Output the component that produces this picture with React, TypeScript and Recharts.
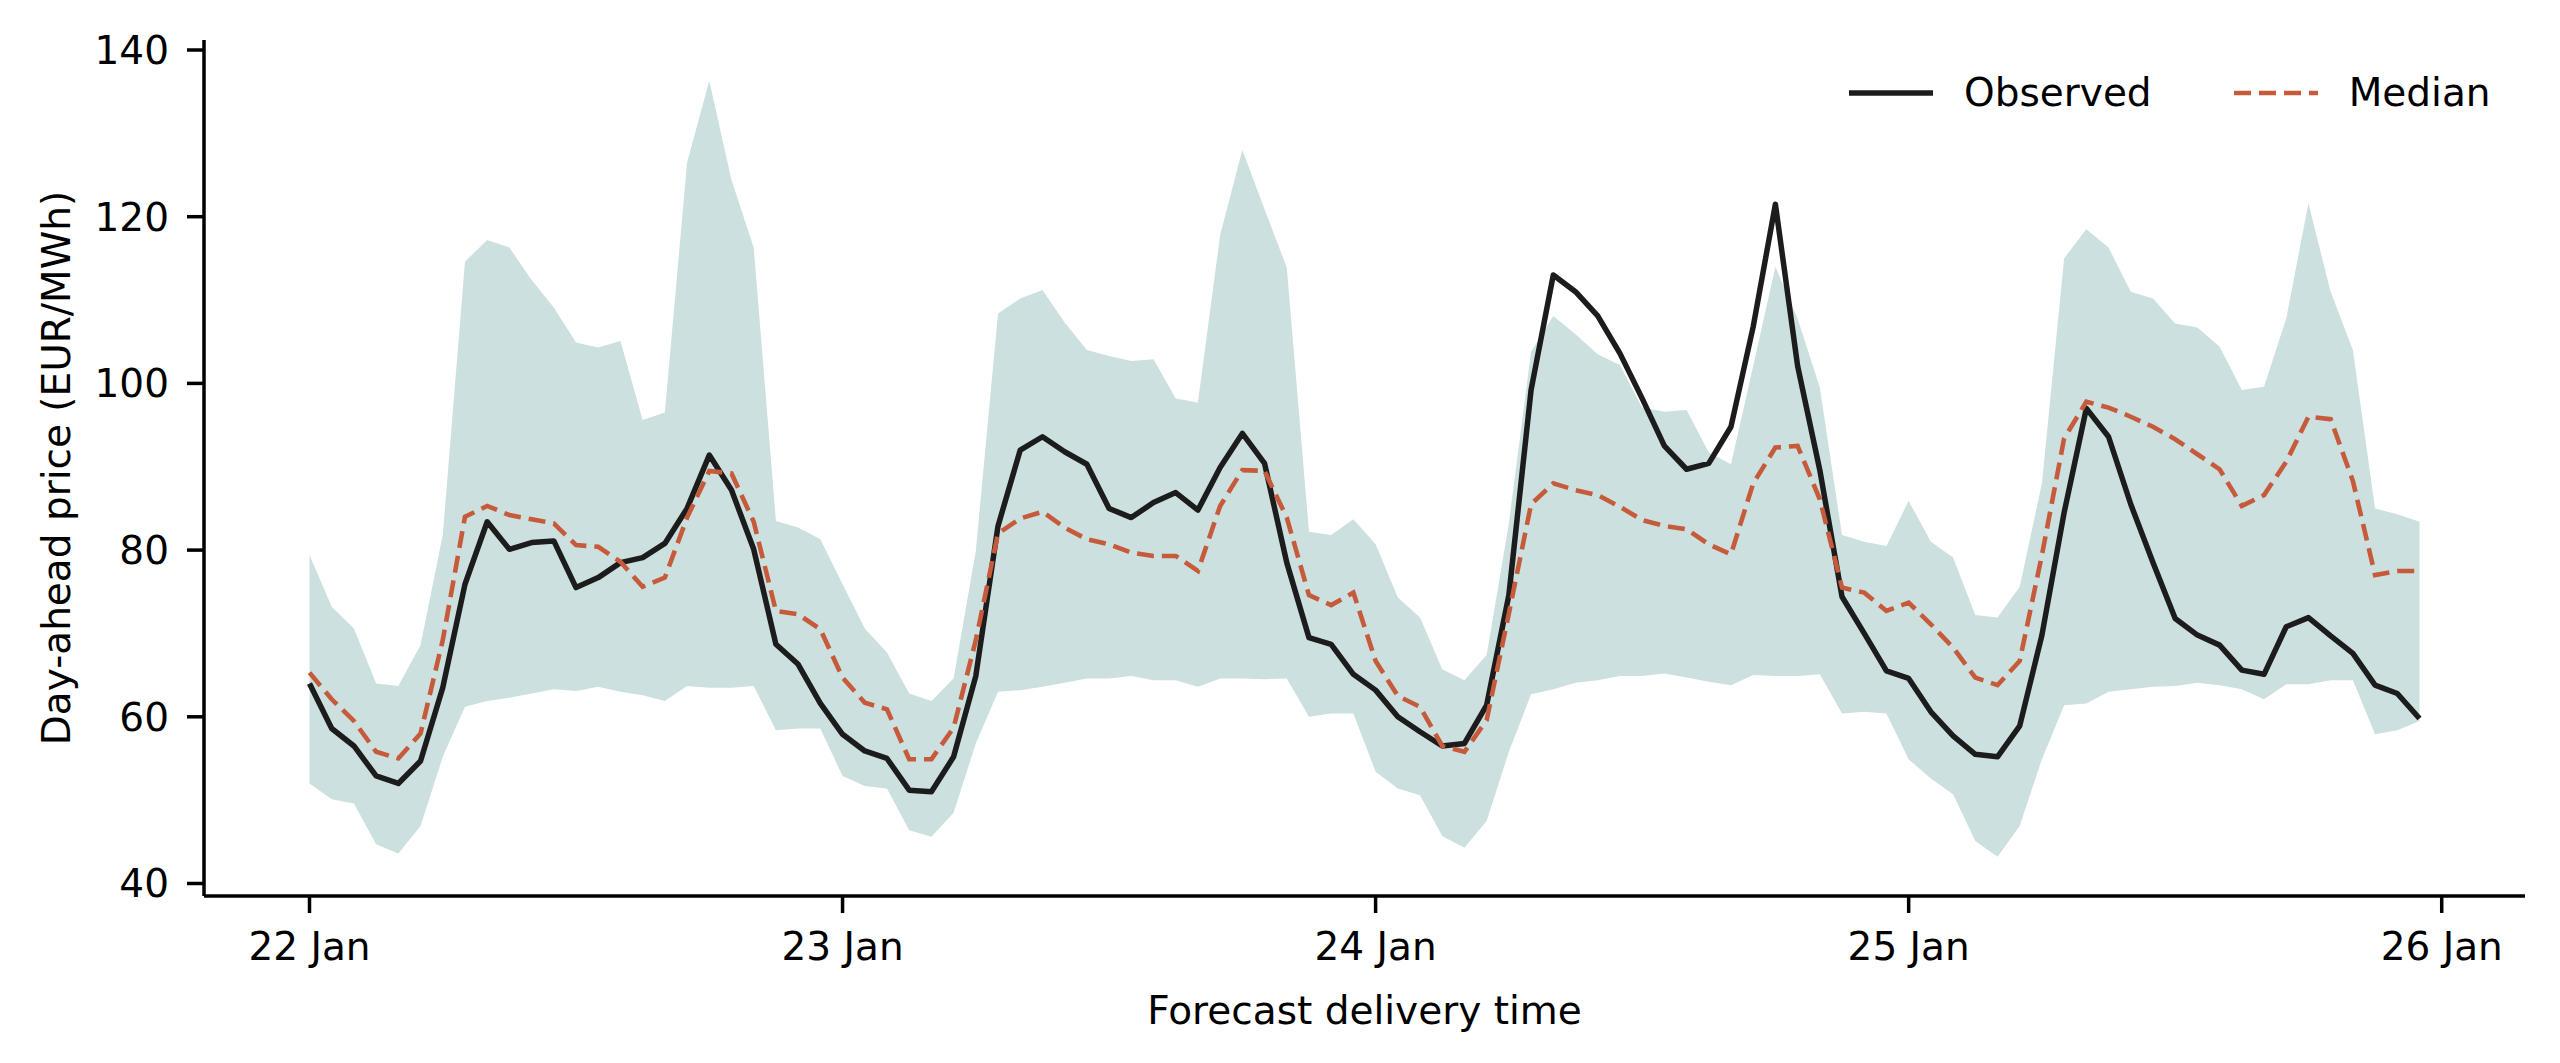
import React from "react";
import { Area, ComposedChart, Legend, Line, XAxis, YAxis } from "recharts";

const FONT = '"DejaVu Sans", sans-serif';

// hourly delivery times, 22 Jan 00:00 .. 25 Jan 23:00
const dayLabels = ["22 Jan", "23 Jan", "24 Jan", "25 Jan", "26 Jan"];
const dayTicks = [0, 24, 48, 72, 96];
const priceTicks = [40, 60, 80, 100, 120, 140];
const legendOrder = ["Observed", "Median"];

const observed = [
  64.0, 58.6, 56.5, 52.9, 52.0, 54.7, 63.5, 75.9, 83.4, 80.1, 80.9, 81.1, 75.5, 76.7, 78.5, 79.1, 80.8, 85.0, 91.4, 87.2, 80.1, 68.7, 66.3, 61.6,
  57.9, 55.9, 55.0, 51.2, 51.0, 55.2, 64.9, 82.9, 92.0, 93.6, 91.8, 90.3, 85.0, 83.9, 85.7, 86.9, 84.8, 89.9, 94.0, 90.4, 78.5, 69.5, 68.7, 65.1,
  63.2, 60.0, 58.2, 56.5, 56.8, 61.4, 74.6, 99.2, 113.0, 111.0, 108.1, 103.6, 98.2, 92.5, 89.7, 90.4, 94.8, 106.8, 121.5, 102.1, 89.6, 74.4, 70.0, 65.5,
  64.6, 60.6, 57.7, 55.5, 55.2, 58.9, 69.8, 84.5, 97.0, 93.6, 85.5, 78.5, 71.8, 69.8, 68.6, 65.6, 65.1, 70.8, 71.9, 69.7, 67.6, 63.8, 62.8, 59.8,
];

const median = [
  65.3, 62.1, 59.5, 55.8, 55.0, 58.0, 69.2, 84.0, 85.3, 84.2, 83.7, 83.2, 80.6, 80.4, 78.6, 75.6, 76.7, 83.9, 89.5, 89.2, 83.4, 72.7, 72.3, 70.5,
  64.7, 61.7, 60.9, 54.9, 54.9, 58.7, 69.2, 82.0, 83.8, 84.6, 82.7, 81.3, 80.7, 79.7, 79.3, 79.3, 77.5, 85.3, 89.6, 89.5, 83.9, 74.6, 73.4, 74.9,
  66.7, 62.5, 61.2, 56.5, 55.8, 59.6, 72.4, 85.5, 88.0, 87.2, 86.6, 85.2, 83.6, 82.9, 82.5, 80.7, 79.5, 88.0, 92.3, 92.5, 86.1, 75.5, 74.9, 72.7,
  73.7, 71.1, 68.3, 64.7, 63.8, 66.7, 79.4, 93.4, 97.8, 97.1, 96.0, 94.8, 93.3, 91.5, 89.7, 85.3, 86.6, 90.6, 96.0, 95.7, 88.3, 77.0, 77.5, 77.5,
];

const lower = [
  52.0, 50.1, 49.6, 44.7, 43.6, 46.9, 55.2, 61.2, 61.9, 62.3, 62.8, 63.3, 63.1, 63.6, 63.0, 62.6, 61.9, 63.7, 63.5, 63.5, 63.7, 58.4, 58.6, 58.6,
  52.9, 51.7, 51.4, 46.4, 45.6, 48.5, 56.8, 63.0, 63.2, 63.6, 64.1, 64.6, 64.6, 64.9, 64.4, 64.4, 63.6, 64.6, 64.6, 64.5, 64.6, 60.0, 60.4, 60.4,
  53.4, 51.4, 50.6, 45.7, 44.3, 47.5, 55.8, 62.7, 63.3, 64.1, 64.4, 64.9, 64.9, 65.2, 64.7, 64.2, 63.8, 65.0, 64.9, 64.9, 65.1, 60.4, 60.6, 60.4,
  54.9, 52.6, 50.7, 45.1, 43.2, 46.9, 54.9, 61.4, 61.6, 63.0, 63.3, 63.6, 63.7, 64.1, 63.8, 63.3, 62.1, 63.9, 63.9, 64.4, 64.4, 57.9, 58.4, 59.5,
];

const upper = [
  79.4, 73.2, 70.6, 64.0, 63.7, 68.6, 81.8, 114.6, 117.2, 116.3, 112.4, 109.1, 104.9, 104.3, 105.1, 95.6, 96.5, 126.5, 136.3, 124.4, 116.3, 83.5, 82.7, 81.3,
  75.9, 70.6, 67.7, 62.8, 61.9, 64.6, 79.9, 108.4, 110.2, 111.2, 107.3, 104.0, 103.3, 102.7, 102.9, 98.2, 97.7, 117.8, 128.0, 120.9, 113.9, 82.2, 81.8, 83.7,
  80.7, 74.3, 71.9, 65.7, 64.4, 67.4, 83.2, 103.8, 108.1, 105.9, 103.5, 102.2, 97.1, 96.6, 96.8, 91.7, 90.3, 102.1, 114.0, 107.8, 99.5, 81.8, 81.0, 80.5,
  85.9, 81.0, 79.1, 72.2, 71.9, 75.6, 88.0, 115.0, 118.5, 116.3, 111.0, 110.2, 107.2, 106.7, 104.4, 99.2, 99.6, 107.8, 121.6, 111.0, 104.0, 85.0, 84.3, 83.4,
];

const rows = observed.map((value, i) => ({
  hour: i,
  observed: value,
  median: median[i],
  band: [lower[i], upper[i]],
}));

function YTitle(props: any) {
  const vb = props.viewBox ?? { x: 0, y: 40, width: 204, height: 856 };
  const cx = 56;
  const cy = vb.y + vb.height / 2;
  return (
    <text x={cx} y={cy} transform={`rotate(-90 ${cx} ${cy})`} textAnchor="middle" dominantBaseline="central"
      fontFamily={FONT} fontSize={39} fill="#000">
      Day-ahead price (EUR/MWh)
    </text>
  );
}

function XTitle(props: any) {
  const vb = props.viewBox ?? { x: 204, y: 896, width: 2320, height: 167 };
  return (
    <text x={vb.x + vb.width / 2} y={vb.y + 128} textAnchor="middle" fontFamily={FONT} fontSize={39} fill="#000">
      Forecast delivery time
    </text>
  );
}

function LegendContent({ payload }: any) {
  const items = (payload ?? [])
    .filter((e: any) => legendOrder.includes(e.value))
    .sort((a: any, b: any) => legendOrder.indexOf(a.value) - legendOrder.indexOf(b.value));
  return (
    <div style={{ display: "flex", alignItems: "center", fontFamily: FONT, fontSize: 39, color: "#000" }}>
      {items.map((entry: any, i: number) => (
        <div key={entry.value} style={{ display: "flex", alignItems: "center", marginLeft: i ? 82 : 0 }}>
          <svg width={84} height={20}>
            <line x1={0} x2={84} y1={10} y2={10} stroke={entry.color}
              strokeWidth={entry.payload?.strokeWidth ?? 5}
              strokeDasharray={entry.payload?.strokeDasharray} />
          </svg>
          <span style={{ marginLeft: 31, lineHeight: "40px", whiteSpace: "nowrap" }}>{entry.value}</span>
        </div>
      ))}
    </div>
  );
}

export default function App() {
  return (
    <div style={{ position: "absolute", left: 0, top: 0, width: 2560, height: 1063, background: "#fff" }}>
      <ComposedChart width={2560} height={1063} data={rows} margin={{ top: 40, right: 35, bottom: 0, left: 0 }}>
        <XAxis
          type="number"
          dataKey="hour"
          domain={[-4.75, 99.75]}
          ticks={dayTicks}
          allowDataOverflow
          tickFormatter={(v) => dayLabels[Math.round(Number(v) / 24)]}
          height={167}
          stroke="#000"
          axisLine={{ stroke: "#000", strokeWidth: 3.5 }}
          tickLine={{ stroke: "#000", strokeWidth: 3.5 }}
          tickSize={17}
          tickMargin={19}
          tick={{ fill: "#000", fontSize: 39, fontFamily: FONT }}
          label={<XTitle />}
        />
        <YAxis
          type="number"
          domain={[38.5, 141.2]}
          ticks={priceTicks}
          allowDataOverflow
          width={204}
          stroke="#000"
          axisLine={{ stroke: "#000", strokeWidth: 3.5 }}
          tickLine={{ stroke: "#000", strokeWidth: 3.5 }}
          tickSize={17}
          tickMargin={18}
          tick={{ fill: "#000", fontSize: 39, fontFamily: FONT }}
          label={<YTitle />}
        />
        <Legend
          layout="horizontal"
          verticalAlign="middle"
          align="center"
          content={<LegendContent />}
          wrapperStyle={{ left: 1849, top: 73, width: 645, height: 40 }}
        />
        <Area
          type="linear"
          dataKey="band"
          stroke="none"
          fill="#cbe0df"
          fillOpacity={1}
          legendType="none"
          isAnimationActive={false}
          activeDot={false}
        />
        <Line
          type="linear"
          dataKey="observed"
          name="Observed"
          stroke="#1c1c1c"
          strokeWidth={5.5}
          strokeLinejoin="round"
          dot={false}
          activeDot={false}
          legendType="plainline"
          isAnimationActive={false}
        />
        <Line
          type="linear"
          dataKey="median"
          name="Median"
          stroke="#c65b3c"
          strokeWidth={4.6}
          strokeDasharray="17 8"
          dot={false}
          activeDot={false}
          legendType="plainline"
          isAnimationActive={false}
        />
      </ComposedChart>
    </div>
  );
}
